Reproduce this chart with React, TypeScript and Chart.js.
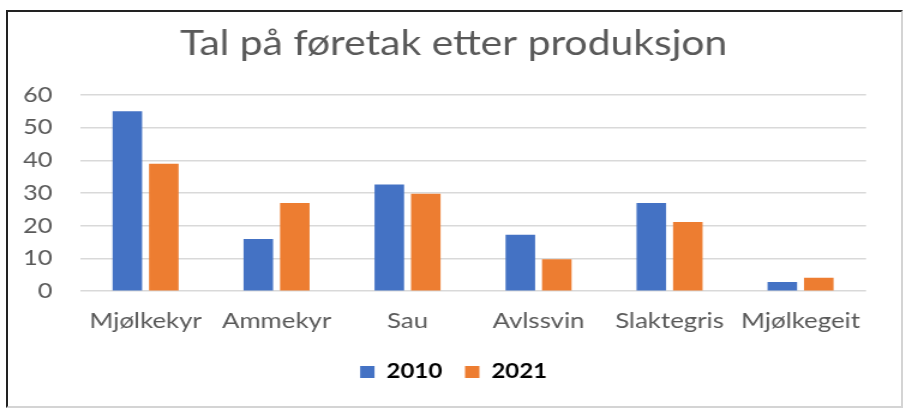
import React, { useEffect, useRef } from "react";
import { Chart, registerables } from "chart.js";

Chart.register(...registerables);

const categories = ["Mjølkekyr", "Ammekyr", "Sau", "Avlssvin", "Slaktegris", "Mjølkegeit"];
const values2010 = [55, 16, 32.6, 17.3, 27, 2.8];
const values2021 = [39, 27, 29.8, 9.8, 21.2, 4.1];
const seriesLabels = ["2010", "2021"];
const yTicks = [0, 10, 20, 30, 40, 50, 60];
const titleText = "Tal på føretak etter produksjon";

const SX = 1.2;
const W = 756;
const H = 410;
const FONT = "Lato, 'Open Sans', sans-serif";

export default function App() {
  const ref = useRef<HTMLCanvasElement>(null);
  useEffect(() => {
    if (!ref.current) return;
    const chart = new Chart(ref.current, {
      type: "bar",
      data: {
        labels: categories,
        datasets: [
          {
            label: seriesLabels[0],
            data: values2010,
            backgroundColor: "#4472C4",
            categoryPercentage: 0.557,
            barPercentage: 0.81,
          },
          {
            label: seriesLabels[1],
            data: values2021,
            backgroundColor: "#ED7D31",
            categoryPercentage: 0.557,
            barPercentage: 0.81,
          },
        ],
      },
      options: {
        responsive: false,
        animation: false,
        devicePixelRatio: 1,
        layout: { padding: { left: 0, right: 0, top: 0, bottom: 18 } },
        plugins: {
          title: {
            display: true,
            text: titleText,
            color: "#595959",
            font: { family: FONT, size: 34, weight: "normal" },
            padding: { top: 24, bottom: 30.2 },
          },
          legend: {
            display: true,
            position: "bottom",
            labels: {
              color: "#000000",
              font: { family: FONT, size: 20, weight: "bold" },
              boxWidth: 12,
              boxHeight: 12,
              padding: 19,
            },
          },
          tooltip: { enabled: false },
        },
        scales: {
          x: {
            grid: { display: false },
            border: { display: false },
            ticks: {
              color: "#595959",
              font: { family: FONT, size: 21.5 },
              padding: 9,
              maxRotation: 0,
              autoSkip: false,
            },
          },
          y: {
            min: 0,
            max: 60,
            afterFit: (scale: any) => {
              scale.width = 66.7;
            },
            afterBuildTicks: (scale: any) => {
              scale.ticks = yTicks.map((v) => ({ value: v }));
            },
            grid: { color: "#D9D9D9", lineWidth: 1.5, drawTicks: false },
            border: { display: false },
            ticks: {
              color: "#595959",
              font: { family: FONT, size: 21 },
              padding: 23,
            },
          },
          yRight: {
            position: "right",
            display: true,
            afterFit: (scale: any) => {
              scale.width = 34.3;
            },
            grid: { display: false, drawTicks: false },
            border: { display: false },
            ticks: { display: false },
          },
        },
      },
    });
    return () => chart.destroy();
  }, []);

  return (
    <div style={{ position: "fixed", left: 0, top: 0, width: 907, height: 410, background: "#fff", overflow: "hidden" }}>
      <div
        style={{
          position: "absolute",
          left: 6,
          top: 10,
          width: 893,
          height: 394,
          borderLeft: "2px solid #222",
          borderTop: "2px solid #222",
          borderRight: "2px solid #d4d4d4",
          borderBottom: "2px solid #d4d4d4",
          pointerEvents: "none",
        }}
      />
      <div style={{ position: "absolute", left: 0, top: 0, width: W, height: H, transform: `scaleX(${SX})`, transformOrigin: "0 0" }}>
        <canvas ref={ref} width={W} height={H} style={{ width: W, height: H, display: "block" }} />
      </div>
    </div>
  );
}
